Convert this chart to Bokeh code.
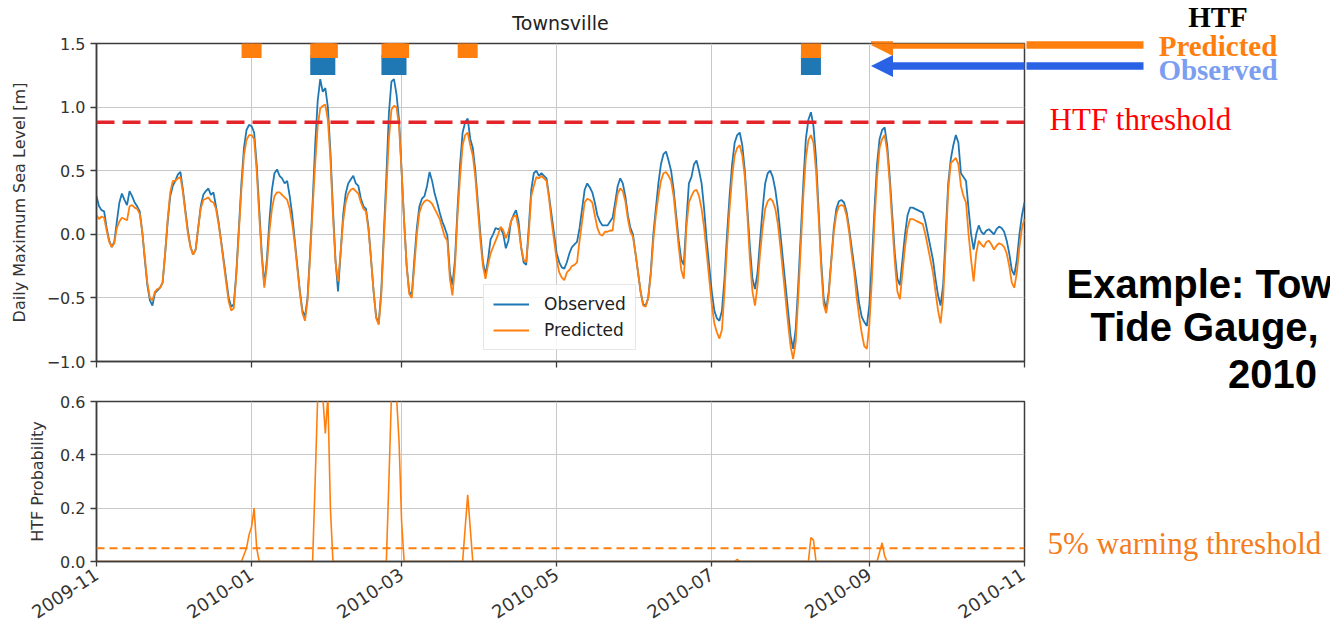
import pandas as pd
from bokeh.plotting import figure
from bokeh.models import (Range1d, FixedTicker, DatetimeTickFormatter, Label, Arrow,
                          NormalHead, Legend, LegendItem, Span)
from bokeh.layouts import column, row
from bokeh.embed import file_html
from bokeh.resources import INLINE

# ---------------- data ----------------
START = "2009-11-01"
END = "2010-11-01"

observed = [
    0.30, 0.22, 0.19, 0.18, 0.05, -0.05, -0.10, -0.06, 0.10, 0.25,
    0.32, 0.27, 0.23, 0.34, 0.30, 0.25, 0.22, 0.18, 0.02, -0.20,
    -0.40, -0.52, -0.56, -0.46, -0.44, -0.42, -0.38, -0.15, 0.10, 0.30,
    0.38, 0.42, 0.47, 0.49, 0.35, 0.18, 0.02, -0.10, -0.16, -0.12,
    0.05, 0.22, 0.31, 0.34, 0.36, 0.31, 0.33, 0.22, 0.10, -0.05,
    -0.20, -0.35, -0.50, -0.57, -0.55, -0.30, 0.05, 0.40, 0.68, 0.82,
    0.86, 0.85, 0.80, 0.55, 0.20, -0.15, -0.40, -0.20, 0.10, 0.35,
    0.48, 0.51, 0.46, 0.44, 0.40, 0.42, 0.30, 0.15, -0.05, -0.25,
    -0.45, -0.60, -0.65, -0.50, -0.15, 0.25, 0.70, 1.05, 1.22, 1.12,
    1.15, 1.00, 0.65, 0.20, -0.20, -0.45, -0.15, 0.15, 0.32, 0.40,
    0.43, 0.46, 0.40, 0.38, 0.28, 0.22, 0.20, 0.05, -0.20, -0.45,
    -0.65, -0.70, -0.45, 0.00, 0.45, 0.95, 1.20, 1.22, 1.10, 0.90,
    0.50, 0.10, -0.25, -0.45, -0.48, -0.20, 0.05, 0.22, 0.28, 0.30,
    0.38, 0.49, 0.42, 0.32, 0.25, 0.17, 0.10, 0.05, -0.01, -0.30,
    -0.40, -0.20, 0.20, 0.55, 0.80, 0.88, 0.91, 0.75, 0.68, 0.50,
    0.25, 0.00, -0.22, -0.32, -0.20, -0.04, 0.00, 0.05, 0.04, 0.05,
    0.00, -0.11, -0.05, 0.10, 0.15, 0.19, 0.10, -0.10, -0.22, -0.24,
    0.05, 0.35, 0.48, 0.50, 0.46, 0.48, 0.46, 0.44, 0.30, 0.15,
    0.00, -0.15, -0.22, -0.26, -0.27, -0.22, -0.15, -0.10, -0.08, -0.06,
    0.05, 0.20, 0.35, 0.40, 0.37, 0.33, 0.25, 0.15, 0.10, 0.07,
    0.07, 0.07, 0.10, 0.13, 0.25, 0.38, 0.44, 0.40, 0.30, 0.15,
    0.05, 0.00, -0.15, -0.30, -0.45, -0.55, -0.56, -0.50, -0.30, 0.00,
    0.20, 0.40, 0.55, 0.63, 0.65, 0.58, 0.50, 0.35, 0.15, -0.05,
    -0.20, -0.24, 0.10, 0.40, 0.45, 0.55, 0.58, 0.50, 0.40, 0.20,
    -0.05, -0.25, -0.45, -0.60, -0.66, -0.68, -0.60, -0.35, 0.00, 0.30,
    0.55, 0.72, 0.78, 0.80, 0.70, 0.50, 0.20, -0.10, -0.35, -0.43,
    -0.30, -0.05, 0.20, 0.40, 0.48, 0.50, 0.45, 0.35, 0.20, 0.00,
    -0.20, -0.40, -0.60, -0.80, -0.90, -0.75, -0.40, 0.00, 0.40, 0.75,
    0.90, 0.96, 0.85, 0.60, 0.20, -0.20, -0.50, -0.59, -0.45, -0.20,
    0.05, 0.20, 0.26, 0.27, 0.25, 0.18, 0.05, -0.10, -0.25, -0.40,
    -0.55, -0.65, -0.69, -0.72, -0.55, -0.20, 0.20, 0.55, 0.75, 0.82,
    0.84, 0.70, 0.45, 0.15, -0.15, -0.35, -0.40, -0.20, 0.00, 0.15,
    0.21, 0.21, 0.20, 0.19, 0.18, 0.17, 0.10, 0.00, -0.10, -0.20,
    -0.35, -0.48, -0.56, -0.40, 0.00, 0.40, 0.59, 0.70, 0.78, 0.72,
    0.48, 0.45, 0.42, 0.20, 0.00, -0.12, 0.00, 0.07, 0.02, 0.00,
    0.03, 0.04, 0.02, 0.00, 0.04, 0.06, 0.05, 0.02, -0.05, -0.15,
    -0.28, -0.32, -0.20, 0.00, 0.15, 0.25,
]

predicted = [
    0.15, 0.12, 0.14, 0.13, 0.03, -0.06, -0.10, -0.07, 0.05, 0.10,
    0.13, 0.12, 0.11, 0.22, 0.23, 0.21, 0.20, 0.16, 0.02, -0.18,
    -0.38, -0.50, -0.52, -0.45, -0.43, -0.42, -0.38, -0.15, 0.12, 0.33,
    0.42, 0.42, 0.44, 0.45, 0.33, 0.16, 0.00, -0.10, -0.16, -0.12,
    0.05, 0.20, 0.27, 0.28, 0.29, 0.26, 0.25, 0.20, 0.08, -0.06,
    -0.22, -0.38, -0.53, -0.60, -0.58, -0.32, 0.02, 0.35, 0.62, 0.74,
    0.78, 0.78, 0.75, 0.50, 0.15, -0.18, -0.42, -0.25, 0.02, 0.20,
    0.30, 0.33, 0.33, 0.31, 0.29, 0.27, 0.20, 0.08, -0.08, -0.27,
    -0.46, -0.62, -0.68, -0.52, -0.18, 0.20, 0.55, 0.85, 0.99, 1.01,
    1.02, 0.90, 0.60, 0.15, -0.22, -0.37, -0.15, 0.10, 0.25, 0.32,
    0.35, 0.36, 0.34, 0.32, 0.25, 0.20, 0.18, 0.03, -0.20, -0.45,
    -0.66, -0.71, -0.48, -0.05, 0.35, 0.75, 0.98, 1.01, 1.00, 0.85,
    0.50, 0.10, -0.25, -0.47, -0.50, -0.25, 0.00, 0.17, 0.23, 0.26,
    0.27, 0.26, 0.24, 0.20, 0.16, 0.12, 0.05, -0.02, -0.05, -0.35,
    -0.48, -0.25, 0.15, 0.45, 0.70, 0.78, 0.80, 0.70, 0.62, 0.45,
    0.20, -0.05, -0.25, -0.35, -0.24, -0.15, -0.10, -0.05, 0.00, 0.06,
    0.03, -0.03, 0.02, 0.10, 0.14, 0.15, 0.05, -0.10, -0.20, -0.22,
    0.00, 0.30, 0.38, 0.45, 0.44, 0.46, 0.44, 0.42, 0.28, 0.10,
    -0.05, -0.20, -0.30, -0.34, -0.36, -0.30, -0.28, -0.25, -0.24, -0.22,
    -0.05, 0.10, 0.25, 0.28, 0.27, 0.25, 0.15, 0.05, 0.00, -0.01,
    0.02, 0.02, 0.03, 0.03, 0.20, 0.32, 0.36, 0.34, 0.26, 0.12,
    0.02, -0.02, -0.15, -0.30, -0.45, -0.56, -0.57, -0.50, -0.32, -0.05,
    0.15, 0.30, 0.42, 0.48, 0.49, 0.46, 0.42, 0.30, 0.10, -0.10,
    -0.28, -0.35, 0.05, 0.25, 0.30, 0.34, 0.35, 0.30, 0.20, 0.05,
    -0.15, -0.35, -0.55, -0.70, -0.77, -0.82, -0.75, -0.45, -0.10, 0.20,
    0.45, 0.62, 0.68, 0.70, 0.62, 0.45, 0.15, -0.20, -0.45, -0.56,
    -0.40, -0.15, 0.05, 0.20, 0.26, 0.28, 0.26, 0.20, 0.08, -0.10,
    -0.30, -0.50, -0.70, -0.88, -0.98, -0.85, -0.50, -0.10, 0.30, 0.60,
    0.74, 0.78, 0.72, 0.50, 0.15, -0.25, -0.55, -0.62, -0.48, -0.22,
    0.02, 0.16, 0.22, 0.23, 0.22, 0.15, 0.02, -0.15, -0.30, -0.50,
    -0.65, -0.78, -0.88, -0.90, -0.70, -0.35, 0.10, 0.45, 0.68, 0.75,
    0.78, 0.65, 0.40, 0.08, -0.22, -0.45, -0.51, -0.30, -0.10, 0.05,
    0.12, 0.12, 0.11, 0.10, 0.09, 0.08, 0.00, -0.10, -0.20, -0.30,
    -0.45, -0.60, -0.70, -0.50, -0.10, 0.35, 0.56, 0.58, 0.60, 0.55,
    0.38, 0.30, 0.25, 0.00, -0.20, -0.37, -0.15, -0.05, -0.08, -0.10,
    -0.06, -0.05, -0.08, -0.12, -0.09, -0.07, -0.08, -0.10, -0.15, -0.25,
    -0.38, -0.42, -0.30, -0.10, 0.05, 0.12,
]

# HTF probability (dates and values)
prob_dates = ["2009-11-01", "2009-12-28", "2009-12-30", "2009-12-31", "2010-01-01",
              "2010-01-02", "2010-01-03", "2010-01-04",
              "2010-01-25", "2010-01-26", "2010-01-27", "2010-01-28", "2010-01-29",
              "2010-01-30", "2010-01-31", "2010-02-01", "2010-02-02",
              "2010-02-22", "2010-02-23", "2010-02-24", "2010-02-25", "2010-02-26",
              "2010-02-27", "2010-02-28", "2010-03-01", "2010-03-02",
              "2010-03-25", "2010-03-27", "2010-03-29",
              "2010-07-10", "2010-07-11", "2010-07-12",
              "2010-08-08", "2010-08-09", "2010-08-10", "2010-08-11",
              "2010-09-04", "2010-09-06", "2010-09-07", "2010-09-08",
              "2010-11-01"]
prob_vals = [0.0, 0.0, 0.05, 0.10, 0.13,
             0.20, 0.05, 0.0,
             0.0, 0.30, 0.62, 0.62, 0.62,
             0.48, 0.62, 0.20, 0.0,
             0.0, 0.0, 0.30, 0.62, 0.62,
             0.62, 0.45, 0.15, 0.0,
             0.0, 0.25, 0.0,
             0.0, 0.008, 0.0,
             0.0, 0.09, 0.08, 0.0,
             0.0, 0.07, 0.02, 0.0,
             0.0]

htf_predicted_dates = ["2010-01-01", "2010-01-28", "2010-01-29", "2010-01-30", "2010-01-31",
                       "2010-02-25", "2010-02-26", "2010-02-27", "2010-02-28",
                       "2010-03-27", "2010-08-09"]
htf_observed_dates = ["2010-01-28", "2010-01-29", "2010-01-30",
                      "2010-02-25", "2010-02-26", "2010-02-27", "2010-08-09"]

htf_threshold = 0.88
warning_threshold = 0.05

level_ticks = [-1.0, -0.5, 0.0, 0.5, 1.0, 1.5]
level_labels = ["\u22121.0", "\u22120.5", "0.0", "0.5", "1.0", "1.5"]
prob_ticks = [0.0, 0.2, 0.4, 0.6]
prob_labels = ["0.0", "0.2", "0.4", "0.6"]
month_ticks = ["2009-11-01", "2010-01-01", "2010-03-01", "2010-05-01",
               "2010-07-01", "2010-09-01", "2010-11-01"]

# ---------------- styling ----------------
BLUE = "#1f77b4"
ORANGE = "#ff7f0e"
ARROW_BLUE = "#2a62e6"
TICK_FONT = "DejaVu Sans"
FRAME_COL = "#3c3c3c"
GRID_COL = "#c8c8c8"

dates = pd.date_range(START, periods=len(observed), freq="D")
x0 = pd.Timestamp(START)
x1 = pd.Timestamp(END)
x0_ms = x0.value / 1e6
x1_ms = x1.value / 1e6
tick_ms = [pd.Timestamp(t).value / 1e6 for t in month_ticks]

# page geometry (the page is drawn from its top-left corner)
FL, FR = 96.0, 1024.0        # plot frames, left/right
T_TOP, T_BOT = 43.0, 361.0   # upper frame
B_TOP, B_BOT = 401.0, 561.0  # lower frame
LEFT_W = 1026
TOP_H = 393
BOT_H = 627 - TOP_H
RIGHT_W = 1330 - LEFT_W


def px_x(px):
    return x0_ms + (px - FL) / (FR - FL) * (x1_ms - x0_ms)


def px_y_top(py):
    return 1.5 - (py - T_TOP) / (T_BOT - T_TOP) * 2.5


def style(p):
    p.outline_line_color = FRAME_COL
    p.outline_line_width = 1.5
    p.background_fill_color = "white"
    p.border_fill_color = "white"
    p.grid.grid_line_color = GRID_COL
    p.grid.grid_line_width = 1
    for ax in (p.xaxis[0], p.yaxis[0]):
        ax.axis_line_color = FRAME_COL
        ax.axis_line_width = 1.5
        ax.major_tick_line_color = FRAME_COL
        ax.major_tick_line_width = 1.3
        ax.major_tick_out = 6
        ax.major_tick_in = 0
        ax.minor_tick_line_color = None
        ax.major_label_text_font = TICK_FONT
        ax.major_label_text_font_size = "16px"
        ax.major_label_text_color = "#333333"
        ax.axis_label_text_font = TICK_FONT
        ax.axis_label_text_font_size = "16px"
        ax.axis_label_text_font_style = "normal"
        ax.axis_label_text_color = "#333333"
    p.xaxis.ticker = FixedTicker(ticks=tick_ms)
    p.xaxis.formatter = DatetimeTickFormatter(
        milliseconds="%Y-%m", seconds="%Y-%m", minsec="%Y-%m", minutes="%Y-%m",
        hourmin="%Y-%m", hours="%Y-%m", days="%Y-%m", months="%Y-%m", years="%Y-%m")


# ---------------- top panel ----------------
p1 = figure(width=LEFT_W, height=TOP_H, x_axis_type="datetime",
            x_range=Range1d(x0, x1), y_range=Range1d(-1.0, 1.5),
            output_backend="svg", toolbar_location=None,
            min_border_left=int(FL), min_border_right=int(LEFT_W - FR),
            min_border_top=int(T_TOP), min_border_bottom=int(TOP_H - T_BOT),
            title="Townsville")
style(p1)
p1.title.align = "center"
p1.title.text_font = TICK_FONT
p1.title.text_font_size = "19px"
p1.title.text_font_style = "normal"
p1.title.text_color = "#222222"
p1.title.standoff = 19
p1.yaxis.ticker = FixedTicker(ticks=level_ticks)
p1.yaxis.major_label_overrides = dict(zip(level_ticks, level_labels))
p1.yaxis.axis_label = "Daily Maximum Sea Level [m]"
p1.yaxis.axis_label_standoff = 15
p1.xaxis.major_label_text_color = None
p1.xaxis.major_label_standoff = 0

r_obs = p1.line(dates, observed, line_color=BLUE, line_width=1.8)
r_pred = p1.line(dates, predicted, line_color=ORANGE, line_width=1.8)

p1.scatter(pd.to_datetime(htf_observed_dates), [1.33] * len(htf_observed_dates),
           marker="square", size=20, fill_color=BLUE, line_color=BLUE, line_width=0)
p1.scatter(pd.to_datetime(htf_predicted_dates), [1.465] * len(htf_predicted_dates),
           marker="square", size=20, fill_color=ORANGE, line_color=ORANGE, line_width=0)

p1.add_layout(Span(location=htf_threshold, dimension="width", line_color="#e3242b",
                   line_width=3.5, line_dash="18 8"))

legend = Legend(items=[LegendItem(label="Observed", renderers=[r_obs]),
                       LegendItem(label="Predicted", renderers=[r_pred])],
                location=(387, 11))
legend.label_text_font = TICK_FONT
legend.label_text_font_size = "17px"
legend.label_text_color = "#222222"
legend.glyph_width = 36
legend.glyph_height = 20
legend.label_standoff = 15
legend.padding = 9
legend.spacing = 6
legend.border_line_color = "#d0d0d0"
legend.border_line_width = 1
legend.background_fill_alpha = 0.85
legend.margin = 0
p1.add_layout(legend)

# arrow heads inside the upper frame (the shafts continue in the side panel)
for yy, col in ((44.5, ORANGE), (65.5, ARROW_BLUE)):
    p1.add_layout(Arrow(end=NormalHead(size=22, fill_color=col, line_color=col, line_width=0),
                        x_start=px_x(1040), y_start=px_y_top(yy),
                        x_end=px_x(870.5), y_end=px_y_top(yy),
                        line_color=col, line_width=7.5))

# ---------------- bottom panel ----------------
p2 = figure(width=LEFT_W, height=BOT_H, x_axis_type="datetime",
            x_range=p1.x_range, y_range=Range1d(0.0, 0.6),
            output_backend="svg", toolbar_location=None,
            min_border_left=int(FL), min_border_right=int(LEFT_W - FR),
            min_border_top=int(B_TOP - TOP_H), min_border_bottom=int(627 - B_BOT))
style(p2)
p2.yaxis.ticker = FixedTicker(ticks=prob_ticks)
p2.yaxis.major_label_overrides = dict(zip(prob_ticks, prob_labels))
p2.yaxis.axis_label = "HTF Probability"
p2.yaxis.axis_label_standoff = 10
p2.xaxis.major_label_orientation = 0.58
p2.xaxis.major_label_text_font_size = "18px"
p2.xaxis.major_label_standoff = 6
p2.xaxis.major_tick_out = 5

p2.line(pd.to_datetime(prob_dates), prob_vals, line_color=ORANGE, line_width=1.6)
p2.add_layout(Span(location=warning_threshold, dimension="width", line_color=ORANGE,
                   line_width=2, line_dash="8 5"))

# ---------------- side panel with the slide annotations ----------------
p3 = figure(width=RIGHT_W, height=627, x_range=Range1d(LEFT_W, 1330), y_range=Range1d(627, 0),
            x_axis_type=None, y_axis_type=None, output_backend="svg", toolbar_location=None,
            min_border=0, min_border_left=0, min_border_right=0, min_border_top=0,
            min_border_bottom=0)
p3.outline_line_color = None
p3.background_fill_color = "white"
p3.border_fill_color = "white"

for yy, col in ((44.5, ORANGE), (65.5, ARROW_BLUE)):
    p3.add_layout(Arrow(end=None, x_start=LEFT_W - 2, y_start=yy, x_end=1143, y_end=yy,
                        line_color=col, line_width=7.5))

serif = "Liberation Serif"
sans = "Liberation Sans"
# baselines (page px) corrected for how the renderer places the alphabetic baseline
for txt, col, base in (("HTF", "#000000", 16), ("Predicted", ORANGE, 45),
                       ("Observed", "#7b9ef0", 69)):
    p3.add_layout(Label(x=1217.5, y=base, text=txt, text_font=serif,
                        text_font_size="29px", text_font_style="bold", text_color=col,
                        text_align="center", text_baseline="alphabetic"))

p3.add_layout(Label(x=1049, y=119, text="HTF threshold", text_font=serif,
                    text_font_size="31px", text_color="#ff0000",
                    text_align="left", text_baseline="alphabetic"))
p3.add_layout(Label(x=1047, y=543, text="5% warning threshold", text_font=serif,
                    text_font_size="31px", text_color="#f47c20",
                    text_align="left", text_baseline="alphabetic"))

p3.add_layout(Label(x=1066, y=283, text="Example: Townsville", text_font=sans,
                    text_font_size="40px", text_font_style="bold", text_color="#000000",
                    text_align="left", text_baseline="alphabetic"))
p3.add_layout(Label(x=1090, y=326, text="Tide Gauge,", text_font=sans,
                    text_font_size="40px", text_font_style="bold", text_color="#000000",
                    text_align="left", text_baseline="alphabetic"))
p3.add_layout(Label(x=1272, y=373, text="2010", text_font=sans,
                    text_font_size="40px", text_font_style="bold", text_color="#000000",
                    text_align="center", text_baseline="alphabetic"))

layout = row(column(p1, p2, spacing=0), p3, spacing=0)
open("out.html", "w").write(file_html(layout, INLINE))
